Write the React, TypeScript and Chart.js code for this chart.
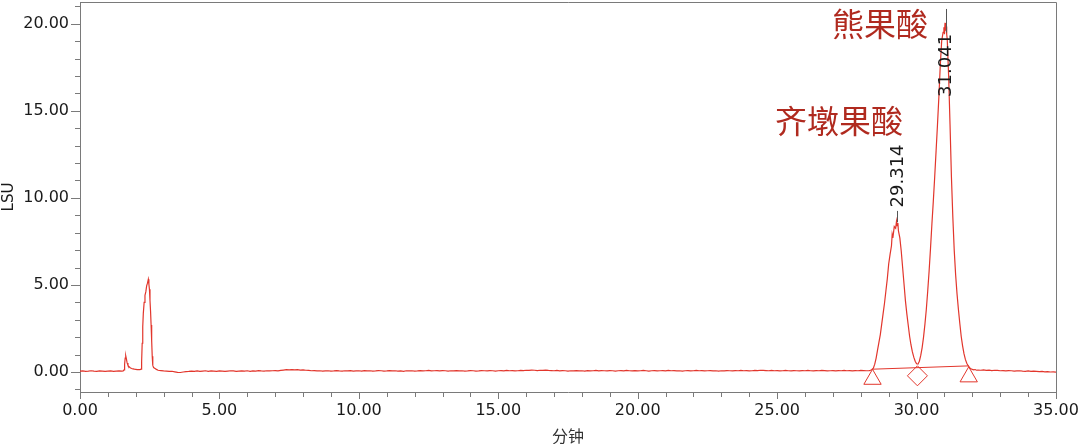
import React, { useEffect, useRef } from "react";
import { Chart, registerables } from "chart.js";

Chart.register(...registerables);

// ---- axis ranges & tick labels ----
const X_MIN = 0;
const X_MAX = 35;
const Y_MIN = -1.15;
const Y_MAX = 21.25;
const X_TICK_LABELS = ["0.00", "5.00", "10.00", "15.00", "20.00", "25.00", "30.00", "35.00"];
const Y_TICK_LABELS = ["0.00", "5.00", "10.00", "15.00", "20.00"];

// ---- detector trace (minutes, LSU) ----
const SAMPLE_STEP = 0.1;
const startTraceStart = 0.0;
const startTrace = [0.05, 0.06, 0.04, 0.05, 0.07, 0.05, 0.04, 0.06, 0.05, 0.03, 0.05, 0.06, 0.04, 0.05, 0.06, 0.05];

const earlyPeaks: [number, number][] = [
  [1.55, 0.06], [1.58, 0.12], [1.60, 0.45], [1.62, 0.80], [1.64, 0.93], [1.66, 0.78], [1.69, 0.52],
  [1.72, 0.38], [1.76, 0.30], [1.80, 0.24], [1.85, 0.20], [1.90, 0.18], [1.95, 0.16], [2.00, 0.15],
  [2.05, 0.14], [2.10, 0.13], [2.15, 0.14], [2.19, 0.16], [2.21, 0.60], [2.23, 1.65], [2.25, 2.60],
  [2.27, 3.35], [2.30, 4.00], [2.33, 4.40], [2.36, 4.60], [2.39, 4.95], [2.42, 5.10], [2.45, 5.32],
  [2.47, 5.05], [2.49, 4.75], [2.51, 4.10], [2.53, 3.50], [2.55, 2.70], [2.57, 1.80], [2.59, 0.90],
  [2.61, 0.38], [2.64, 0.25], [2.69, 0.20], [2.74, 0.15], [2.80, 0.10],
];

const midTraceStart = 2.9;
const midTrace = [
  0.08, 0.06, 0.05, 0.03, 0.04, 0.01, -0.02, -0.03, 0.00, 0.02,
  0.03, 0.05, 0.04, 0.06, 0.03, 0.05, 0.07, 0.04, 0.06, 0.05,
  0.04, 0.06, 0.05, 0.03, 0.05, 0.07, 0.06, 0.04, 0.05, 0.06,
  0.05, 0.07, 0.04, 0.06, 0.05, 0.08, 0.06, 0.05, 0.07, 0.06,
  0.07, 0.08, 0.06, 0.09, 0.11, 0.13, 0.12, 0.14, 0.12, 0.13,
  0.11, 0.12, 0.10, 0.09, 0.07, 0.08, 0.06, 0.07, 0.05, 0.06,
  0.07, 0.05, 0.06, 0.08, 0.06, 0.05, 0.07, 0.06, 0.08, 0.05,
  0.06, 0.07, 0.05, 0.08, 0.06, 0.07, 0.05, 0.06, 0.08, 0.07,
  0.05, 0.06, 0.08, 0.06, 0.07, 0.05, 0.06, 0.04, 0.07, 0.06,
  0.07, 0.05, 0.06, 0.08, 0.06, 0.07, 0.09, 0.06, 0.07, 0.08,
  0.06, 0.08, 0.07, 0.05, 0.07, 0.06, 0.08, 0.06, 0.07, 0.05,
  0.06, 0.08, 0.07, 0.05, 0.06, 0.08, 0.07, 0.06, 0.08, 0.07,
  0.05, 0.07, 0.08, 0.06, 0.09, 0.07, 0.08, 0.06, 0.07, 0.09,
  0.08, 0.10, 0.09, 0.11, 0.10, 0.08, 0.10, 0.09, 0.11, 0.09,
  0.08, 0.07, 0.09, 0.06, 0.08, 0.07, 0.05, 0.07, 0.06, 0.08,
  0.06, 0.07, 0.05, 0.08, 0.06, 0.07, 0.09, 0.06, 0.08, 0.07,
  0.06, 0.08, 0.07, 0.05, 0.07, 0.08, 0.06, 0.09, 0.07, 0.06,
  0.08, 0.06, 0.07, 0.09, 0.07, 0.05, 0.07, 0.08, 0.06, 0.07,
  0.08, 0.06, 0.09, 0.07, 0.08, 0.06, 0.07, 0.05, 0.07, 0.08,
  0.06, 0.07, 0.09, 0.07, 0.08, 0.06, 0.07, 0.08, 0.06, 0.07,
  0.05, 0.07, 0.06, 0.08, 0.07, 0.06, 0.08, 0.07, 0.09, 0.07,
  0.08, 0.06, 0.07, 0.09, 0.08, 0.10, 0.09, 0.08, 0.07, 0.09,
  0.07, 0.08, 0.06, 0.07, 0.09, 0.07, 0.06, 0.08, 0.07, 0.06,
  0.08, 0.07, 0.09, 0.07, 0.06, 0.08, 0.07, 0.09, 0.08, 0.06,
  0.07, 0.08, 0.06, 0.08, 0.07, 0.09, 0.07, 0.08, 0.06, 0.08,
  0.07, 0.09, 0.08, 0.07, 0.08,
];

const acidPeaks: [number, number][] = [
  [28.35, 0.10], [28.40, 0.14], [28.45, 0.22], [28.50, 0.45], [28.55, 0.80], [28.60, 1.25],
  [28.65, 1.70], [28.70, 2.15], [28.75, 2.75], [28.80, 3.35], [28.85, 3.95], [28.90, 4.65],
  [28.95, 5.35], [29.00, 6.20], [29.05, 6.75], [29.10, 7.25], [29.125, 7.90], [29.15, 7.70],
  [29.20, 8.35], [29.25, 8.25], [29.28, 8.65], [29.30, 8.40], [29.33, 8.55], [29.35, 8.10],
  [29.40, 7.70], [29.45, 6.95], [29.50, 6.00], [29.55, 5.05], [29.60, 4.10], [29.65, 3.35],
  [29.70, 2.70], [29.75, 2.05], [29.80, 1.55], [29.85, 1.15], [29.90, 0.85], [29.95, 0.62],
  [30.00, 0.47], [30.05, 0.45], [30.10, 0.62], [30.15, 0.95], [30.20, 1.40], [30.25, 2.00],
  [30.30, 2.75], [30.35, 3.60], [30.40, 4.65], [30.45, 5.80], [30.50, 7.10], [30.55, 8.50],
  [30.60, 9.80], [30.65, 11.20], [30.70, 12.70], [30.75, 14.20], [30.80, 15.80], [30.85, 17.60],
  [30.90, 19.00], [30.95, 19.50], [30.98, 19.80], [31.00, 19.40], [31.02, 20.05], [31.04, 19.60],
  [31.06, 19.85], [31.08, 19.40], [31.10, 19.10], [31.15, 17.00], [31.20, 14.20], [31.25, 11.20],
  [31.30, 8.90], [31.35, 7.00], [31.40, 5.60], [31.45, 4.50], [31.50, 3.60], [31.55, 2.80],
  [31.60, 2.05], [31.65, 1.50], [31.70, 1.05], [31.75, 0.72], [31.80, 0.50], [31.85, 0.36],
  [31.90, 0.25], [31.95, 0.19], [32.00, 0.15], [32.05, 0.12], [32.10, 0.14], [32.15, 0.10],
  [32.20, 0.11],
];

const endTraceStart = 32.3;
const endTrace = [
  0.10, 0.12, 0.09, 0.11, 0.08, 0.10, 0.09, 0.07, 0.08, 0.06,
  0.08, 0.07, 0.05, 0.06, 0.07, 0.05, 0.04, 0.06, 0.03, 0.05,
  0.04, 0.02, 0.03, 0.01, 0.02, 0.00, 0.01, -0.01,
];

// ---- integration baseline & event markers ----
const integrationTimes = [28.42, 31.87];
const integrationLSU = [0.16, 0.35];
const eventTimes = [28.42, 30.03, 31.87];
const eventLSU = [-0.42, -0.22, -0.28];
const eventShapes = ["triangle", "rectRot", "triangle"];

// ---- peak annotations ----
const peakTimes = [29.314, 31.041];
const peakLabels = ["29.314", "31.041"];
const peakLineFrom = [8.6, 19.5];
const peakLineTo = [9.25, 20.85];
const peakLabelBase = [9.45, 15.8];

const compoundNames = ["齐墩果酸", "熊果酸"];
const compoundRightTime = [29.51, 30.41];
const compoundLSU = [14.42, 19.99];

const TRACE_COLOR = "#e2362c";
const NAME_COLOR = "#b02a1f";
const AXIS_COLOR = "#7a7a7a";
const TEXT_COLOR = "#1a1a1a";

function buildTrace() {
  const pts: { x: number; y: number }[] = [];
  startTrace.forEach((v, i) => pts.push({ x: startTraceStart + i * SAMPLE_STEP, y: v }));
  earlyPeaks.forEach(([x, y]) => pts.push({ x, y }));
  midTrace.forEach((v, i) => pts.push({ x: midTraceStart + i * SAMPLE_STEP, y: v }));
  acidPeaks.forEach(([x, y]) => pts.push({ x, y }));
  endTrace.forEach((v, i) => pts.push({ x: endTraceStart + i * SAMPLE_STEP, y: v }));
  return pts;
}

const overlayPlugin = {
  id: "overlay",
  afterDraw(chart: any) {
    const { ctx, chartArea: a, scales } = chart;
    const xs = scales.x;
    const ys = scales.y;
    ctx.save();
    // frame top & right
    ctx.strokeStyle = AXIS_COLOR;
    ctx.lineWidth = 1;
    ctx.beginPath();
    ctx.moveTo(a.left, Math.round(a.top) + 0.5);
    ctx.lineTo(Math.round(a.right) + 0.5, Math.round(a.top) + 0.5);
    ctx.lineTo(Math.round(a.right) + 0.5, a.bottom);
    ctx.stroke();
    // x ticks
    ctx.beginPath();
    for (let v = X_MIN; v <= X_MAX; v += 1) {
      const px = Math.round(xs.getPixelForValue(v)) + 0.5;
      const len = v % 5 === 0 ? 7 : 5;
      ctx.moveTo(px, a.bottom);
      ctx.lineTo(px, a.bottom + len);
    }
    // y ticks
    for (let v = -1; v <= 21; v += 1) {
      const py = Math.round(ys.getPixelForValue(v)) + 0.5;
      const len = v % 5 === 0 ? 9 : 5;
      ctx.moveTo(a.left, py);
      ctx.lineTo(a.left - len, py);
    }
    ctx.stroke();

    // peak marker lines
    ctx.strokeStyle = "#555555";
    ctx.beginPath();
    peakTimes.forEach((t, i) => {
      const px = Math.round(xs.getPixelForValue(t)) + 0.5;
      ctx.moveTo(px, ys.getPixelForValue(peakLineFrom[i]));
      ctx.lineTo(px, ys.getPixelForValue(peakLineTo[i]));
    });
    ctx.stroke();

    // peak retention time labels
    ctx.fillStyle = TEXT_COLOR;
    ctx.font = "18px 'DejaVu Sans'";
    ctx.textAlign = "left";
    ctx.textBaseline = "middle";
    peakTimes.forEach((t, i) => {
      ctx.save();
      ctx.translate(xs.getPixelForValue(t), ys.getPixelForValue(peakLabelBase[i]));
      ctx.rotate(-Math.PI / 2);
      ctx.fillText(peakLabels[i], 0, 1);
      ctx.restore();
    });

    // compound names
    ctx.fillStyle = NAME_COLOR;
    ctx.font = "32px 'Noto Sans CJK SC'";
    ctx.textAlign = "right";
    ctx.textBaseline = "middle";
    compoundNames.forEach((n, i) => {
      ctx.fillText(n, xs.getPixelForValue(compoundRightTime[i]), ys.getPixelForValue(compoundLSU[i]));
    });
    ctx.restore();
  },
};

export default function App() {
  const ref = useRef<HTMLCanvasElement | null>(null);
  useEffect(() => {
    if (!ref.current) return;
    const chart = new Chart(ref.current, {
      type: "line",
      data: {
        datasets: [
          {
            data: buildTrace(),
            borderColor: TRACE_COLOR,
            borderWidth: 1.2,
            pointRadius: 0,
            tension: 0,
          },
          {
            data: integrationTimes.map((t, i) => ({ x: t, y: integrationLSU[i] })),
            borderColor: TRACE_COLOR,
            borderWidth: 1,
            pointRadius: 0,
          },
          {
            data: eventTimes.map((t, i) => ({ x: t, y: eventLSU[i] })),
            showLine: false,
            borderColor: TRACE_COLOR,
            backgroundColor: "rgba(0,0,0,0)",
            borderWidth: 1,
            pointStyle: eventShapes as any,
            pointRadius: [10, 10, 10],
            clip: false,
          },
        ],
      },
      options: {
        responsive: false,
        animation: false,
        maintainAspectRatio: false,
        layout: { autoPadding: false, padding: { left: 0, right: 24, top: 2, bottom: 0 } },
        plugins: { legend: { display: false }, tooltip: { enabled: false } },
        scales: {
          x: {
            type: "linear",
            min: X_MIN,
            max: X_MAX,
            grid: { display: true, drawOnChartArea: false, drawTicks: false },
            border: { color: AXIS_COLOR, width: 1 },
            ticks: {
              stepSize: 1,
              autoSkip: false,
              includeBounds: false,
              maxRotation: 0,
              padding: 9,
              color: TEXT_COLOR,
              font: { family: "'DejaVu Sans'", size: 16 },
              callback: (v: any) => (Number(v) % 5 === 0 ? X_TICK_LABELS[Number(v) / 5] : ""),
            },
            title: {
              display: true,
              text: "分钟",
              color: "#333333",
              font: { family: "'Noto Sans CJK SC'", size: 16, lineHeight: 1 },
              padding: { top: 0, bottom: 0 },
            },
            afterFit: (s: any) => {
              s.height = 52;
              s.paddingLeft = 0;
              s.paddingRight = 0;
            },
          },
          y: {
            min: Y_MIN,
            max: Y_MAX,
            grid: { display: true, drawOnChartArea: false, drawTicks: false },
            border: { color: AXIS_COLOR, width: 1 },
            ticks: {
              stepSize: 1,
              autoSkip: false,
              includeBounds: false,
              padding: 11,
              color: TEXT_COLOR,
              font: { family: "'DejaVu Sans'", size: 16 },
              callback: (v: any) => (Number(v) % 5 === 0 && Number(v) >= 0 ? Y_TICK_LABELS[Number(v) / 5] : ""),
            },
            title: {
              display: true,
              text: "LSU",
              color: TEXT_COLOR,
              font: { family: "'DejaVu Sans'", size: 15, lineHeight: 1 },
              padding: { top: 2, bottom: 0 },
            },
            afterFit: (s: any) => {
              s.width = 80;
              s.paddingTop = 0;
              s.paddingBottom = 0;
            },
          },
        },
      },
      plugins: [overlayPlugin],
    });
    return () => chart.destroy();
  }, []);
  return (
    <div style={{ position: "absolute", left: 0, top: 0, width: 1080, height: 444, background: "#fff" }}>
      <canvas ref={ref} width={1080} height={444} style={{ display: "block", width: 1080, height: 444 }} />
    </div>
  );
}
